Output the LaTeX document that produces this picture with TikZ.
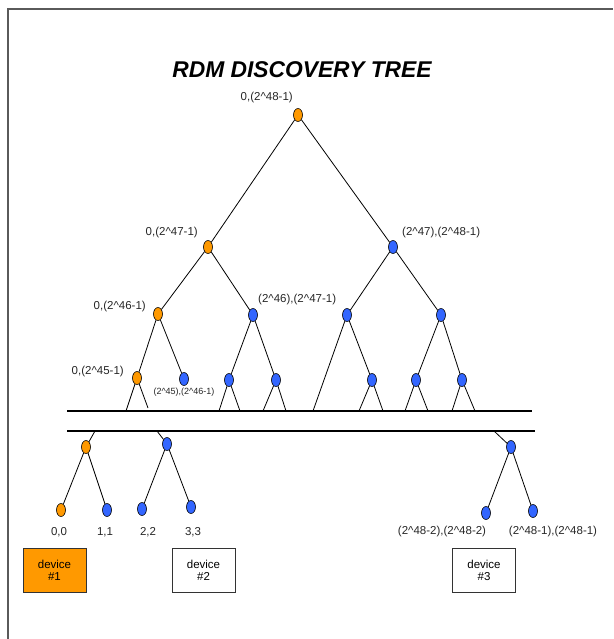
\documentclass[tikz,border=0pt]{standalone}
\usepackage{fontspec}
\setmainfont{Liberation Sans}
\usetikzlibrary{shapes.geometric,positioning}

\definecolor{discorange}{HTML}{FF9900}
\definecolor{discblue}{HTML}{3366FF}
\definecolor{framegray}{HTML}{5A5A5A}

\tikzset{
  onode/.style={ellipse,draw=black,fill=discorange,minimum width=9pt,
    minimum height=13pt,inner sep=0pt,line width=0.6pt},
  bnode/.style={onode,fill=discblue},
  lbl/.style={font=\fontsize{11.5}{12}\selectfont,text=black!85,inner sep=0pt},
  devbox/.style={draw=black!80,line width=1pt,minimum width=63pt,
    minimum height=44pt,align=center,inner sep=0pt,
    font=\fontsize{11.5}{12}\selectfont},
  branch/.style={line width=0.8pt},
  bar/.style={line width=1.3pt}
}
\newcommand{\pw}{2\textasciicircum}

\begin{document}
\begin{tikzpicture}[x=1pt,y=-1pt]
\useasboundingbox (0,0) rectangle (613,639);
\draw[framegray,line width=2pt] (8,639) -- (8,9) -- (613,9);
\node (title) at (302,70)
  {\fontsize{22.8}{24}\selectfont\bfseries\itshape RDM DISCOVERY TREE};

% upper part of the tree
\node[onode] (n) at (298,115) {};
\node[onode] (n0) at (208,247) {};
\node[bnode] (n1) at (393,247) {};
\node[onode] (n00) at (158,314) {};
\node[bnode] (n01) at (253,315) {};
\node[bnode] (n10) at (347,315) {};
\node[bnode] (n11) at (441,315) {};
\node[onode] (n000) at (137,378) {};
\node[bnode] (n001) at (184,379) {};
\node[bnode] (n010) at (229,380) {};
\node[bnode] (n011) at (276,380) {};
\node[bnode] (n101) at (372,380) {};
\node[bnode] (n110) at (416,380) {};
\node[bnode] (n111) at (462,380) {};
\foreach \a/\b in {n/n0,n/n1,n0/n00,n0/n01,n1/n10,n1/n11,n00/n000,n00/n001,%
  n01/n010,n01/n011,n10/n101,n11/n110,n11/n111}
  \draw[branch] (\a) -- (\b);

% the gap in the tree
\coordinate (ua) at (67,411);
\coordinate (ub) at (532,411);
\coordinate (la) at (67,431);
\coordinate (lb) at (535,431);
\draw[bar] (ua) -- (ub);
\draw[bar] (la) -- (lb);
\foreach \a/\x/\y [count=\i] in {n000/126/411,n000/148/408,n010/219/411,%
  n010/240/411,n011/263/411,n011/286/411,n10/313/411,n101/359/411,%
  n101/383/411,n110/405/411,n110/428/411,n111/452/411,n111/475/411}
{
  \coordinate (s\i) at (\x,\y);
  \draw[branch] (\a) -- (s\i);
}

% lower part of the tree
\node[onode] (m0) at (86,447) {};
\node[bnode] (m1) at (167,444) {};
\node[bnode] (m2) at (511,447) {};
\coordinate (t0) at (95,431);
\coordinate (t1) at (157,431);
\coordinate (t2) at (494,431);
\foreach \i in {0,1,2}
  \draw[branch] (t\i) -- (m\i);
\node[onode] (f0) at (61,510) {};
\node[bnode] (f1) at (107,510) {};
\node[bnode] (f2) at (142,509) {};
\node[bnode] (f3) at (191,507) {};
\node[bnode] (f4) at (486,513) {};
\node[bnode] (f5) at (533,511) {};
\foreach \a/\b in {m0/f0,m0/f1,m1/f2,m1/f3,m2/f4,m2/f5}
  \draw[branch] (\a) -- (\b);

% ranges
\node[lbl,anchor=east] (ln) at (293,98) {0,(\pw 48-1)};
\node[lbl,anchor=east] (ln0) at (198,233) {0,(\pw 47-1)};
\node[lbl,anchor=west] (ln1) at (402,233) {(\pw 47),(\pw 48-1)};
\node[lbl,anchor=east] (ln00) at (146,307) {0,(\pw 46-1)};
\node[lbl,anchor=west] (ln01) at (258,300) {(\pw 46),(\pw 47-1)};
\node[lbl,anchor=east] (ln000) at (124,372) {0,(\pw 45-1)};
\node[lbl,font=\fontsize{9}{10}\selectfont] (ln001) at (184,392)
  {(\pw 45),(\pw 46-1)};
\node[lbl] (lf0) at (59,532) {0,0};
\node[lbl] (lf1) at (105,532) {1,1};
\node[lbl] (lf2) at (148,532) {2,2};
\node[lbl] (lf3) at (193,532) {3,3};
\node[lbl] (lf4) at (442,532) {(\pw 48-2),(\pw 48-2)};
\node[lbl] (lf5) at (553,532) {(\pw 48-1),(\pw 48-1)};

% devices
\node[devbox,fill=discorange] (dev1) at (54.5,570) {device\\\#1};
\node[devbox] (dev2) at (203.5,570) {device\\\#2};
\node[devbox] (dev3) at (484,570) {device\\\#3};
\end{tikzpicture}
\end{document}
